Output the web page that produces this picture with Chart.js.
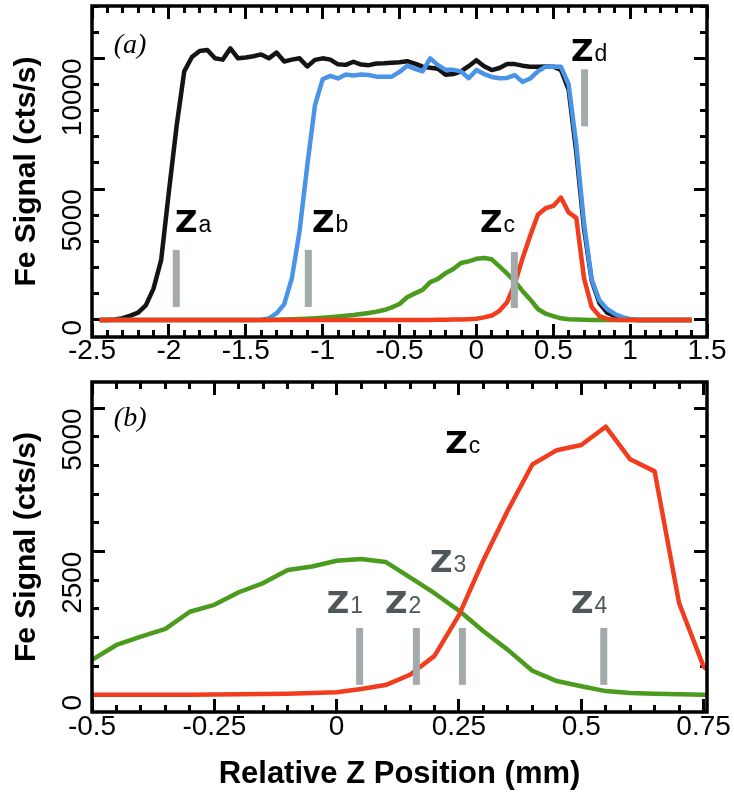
<!DOCTYPE html>
<html lang="en">
<head>
    <meta charset="UTF-8">
    <title>Fe Signal vs Relative Z Position</title>
    <script src="https://cdn.jsdelivr.net/npm/chart.js"></script>
    <style>
        body { margin: 0; background: #fff; }
        canvas { display: block; }
    </style>
</head>
<body>
    <canvas id="panelA" width="734" height="375"></canvas>
    <canvas id="panelB" width="734" height="426"></canvas>

    <script>
        // Sample positions (mm), shared by all four traces
        const zPos = [-2.45, -2.4, -2.35, -2.3, -2.25, -2.2, -2.15, -2.1, -2.05, -2,
            -1.95, -1.9, -1.85, -1.8, -1.75, -1.7, -1.65, -1.6, -1.55, -1.5,
            -1.45, -1.4, -1.35, -1.3, -1.25, -1.2, -1.15, -1.1, -1.05, -1,
            -0.95, -0.9, -0.85, -0.8, -0.75, -0.7, -0.65, -0.6, -0.55, -0.5,
            -0.45, -0.4, -0.35, -0.3, -0.25, -0.2, -0.15, -0.1, -0.05, 0,
            0.05, 0.1, 0.15, 0.2, 0.25, 0.3, 0.35, 0.4, 0.45, 0.5,
            0.55, 0.6, 0.65, 0.7, 0.75, 0.8, 0.85, 0.9, 0.95, 1,
            1.05, 1.1, 1.15, 1.2, 1.25, 1.3, 1.35, 1.4];

        // Fe signal (cts/s)
        const blackSignal = [0, 0, 20, 70, 170, 280, 560, 1200, 2300, 4900,
            7400, 9500, 10050, 10280, 10320, 10000, 9950, 10380, 10000, 10030,
            10080, 10150, 10000, 10220, 9880, 9950, 10000, 9690, 9940, 10000,
            9950, 9770, 9750, 9870, 9760, 9740, 9800, 9810, 9830, 9850,
            9890, 9800, 9680, 9640, 9600, 9370, 9400, 9500, 9700, 9930,
            9700, 9550, 9630, 9780, 9780, 9720, 9680, 9680, 9690, 9680,
            9560, 8800, 6400, 3500, 1500, 650, 280, 150, 70, 15,
            0, 0, 0, 0, 0, 0, 0, 0];
        const blueSignal = [0, 0, 0, 0, 0, 0, 0, 0, 0, 0,
            0, 0, 0, 0, 0, 0, 0, 0, 0, 0,
            0, 10, 60, 250, 600, 1600, 3400, 5900, 8200, 9200,
            9330, 9230, 9380, 9340, 9380, 9360, 9300, 9295, 9300, 9480,
            9720, 9600, 9500, 10000, 9740, 9560, 9560, 9500, 9240, 9550,
            9400, 9290, 9240, 9250, 9360, 9100, 9230, 9500, 9680, 9690,
            9680, 9000, 6700, 3700, 1550, 750, 420, 230, 110, 30,
            0, 0, 0, 0, 0, 0, 0, 0];
        const redSignal = [0, 0, 0, 0, 0, 0, 0, 0, 0, 0,
            0, 0, 0, 0, 0, 0, 0, 0, 0, 0,
            0, 0, 0, 0, 0, 0, 0, 0, 0, 0,
            0, 0, 0, 0, 0, 0, 0, 0, 0, 0,
            0, 0, 0, 0, 5, 10, 15, 20, 30, 45,
            100, 170, 350, 680, 1390, 2350, 3220, 4020, 4270, 4360,
            4680, 4110, 3900, 1600, 494, 150, 40, 10, 0, 0,
            0, 0, 0, 0, 0, 0, 0, 0];
        const greenSignal = [0, 0, 0, 0, 0, 0, 0, 0, 0, 0,
            0, 0, 0, 0, 0, 0, 0, 0, 0, 0,
            0, 0, 0, 10, 18, 28, 38, 50, 65, 85,
            105, 130, 160, 190, 230, 270, 320, 380, 480, 610,
            870, 1017, 1150, 1450, 1570, 1790, 1950, 2180, 2240, 2340,
            2370, 2320, 2050, 1773, 1470, 1110, 785, 420, 240, 150,
            65, 30, 18, 8, 0, 0, 0, 0, 0, 0,
            0, 0, 0, 0, 0, 0, 0, 0];

        // Tick labels
        const xTicksA = [-2.5, -2, -1.5, -1, -0.5, 0, 0.5, 1, 1.5];
        const yTicksA = [0, 5000, 10000];
        const xTicksB = [-0.5, -0.25, 0, 0.25, 0.5, 0.75];
        const yTicksB = [0, 2500, 5000];

        // Marker positions (mm)
        const markersA = [-1.952, -1.093, 0.247, 0.704];
        const markerNamesA = ['a', 'b', 'c', 'd'];
        const markersB = [0.047, 0.163, 0.257, 0.546];
        const markerNamesB = ['1', '2', '3', '4'];

        const FONT = '"Liberation Sans", Arial, sans-serif';
        const BAR_GRAY = '#a3aaab';
        const LABEL_GRAY = '#50575a';

        function drawZ(ctx, px, py, sub, color) {
            ctx.fillStyle = color;
            ctx.textAlign = 'left';
            ctx.textBaseline = 'alphabetic';
            ctx.font = 'bold 31px "DejaVu Sans"';
            ctx.fillText('Z', px, py);
            const w = ctx.measureText('Z').width;
            ctx.font = '23px ' + FONT;
            ctx.fillText(sub, px + w + 1, py);
        }

        // minor tick values: 5 steps per major step
        function minorValues(min, max, majors) {
            const step = (majors[1] - majors[0]) / 5;
            const out = [];
            const k0 = Math.ceil(min / step - 1e-6);
            const k1 = Math.floor(max / step + 1e-6);
            for (let k = k0; k <= k1; k++) out.push(Math.round(k * step * 1e6) / 1e6);
            return out;
        }

        // an axis that only draws inward tick marks, no labels, zero size
        function tickAxis(axis, position, min, max, values, len) {
            return {
                axis: axis,
                position: position,
                type: 'linear',
                bounds: 'data',
                min: min,
                max: max,
                weight: 0,
                afterBuildTicks: s => { s.ticks = values.map(v => ({ value: v })); },
                afterFit: s => {
                    if (axis === 'x') s.height = 0; else s.width = 0;
                    s.paddingLeft = 0; s.paddingRight = 0; s.paddingTop = 0; s.paddingBottom = 0;
                },
                grid: {
                    display: true,
                    drawOnChartArea: false,
                    drawTicks: true,
                    tickLength: -len,
                    tickWidth: 3,
                    tickColor: '#000'
                },
                border: { display: false },
                ticks: { display: false }
            };
        }

        // text annotations and the frame
        function framePlugin(cfg) {
            return {
                id: 'panelFrame',
                afterDatasetsDraw(chart) {
                    const { ctx, chartArea: a, scales: { x, y } } = chart;
                    ctx.save();
                    cfg.labels.forEach(l => {
                        drawZ(ctx, x.getPixelForValue(l.x), y.getPixelForValue(l.y), l.sub, l.color);
                    });
                    ctx.fillStyle = '#000';
                    ctx.font = 'italic 28px "Liberation Serif", serif';
                    ctx.textAlign = 'center';
                    ctx.textBaseline = 'middle';
                    ctx.fillText(cfg.tag.text, x.getPixelForValue(cfg.tag.x), y.getPixelForValue(cfg.tag.y));
                    ctx.strokeStyle = '#000';
                    ctx.lineWidth = 3.5;
                    ctx.strokeRect(a.left, a.top, a.right - a.left, a.bottom - a.top);
                    ctx.restore();
                }
            };
        }

        function makePanel(id, cfg) {
            const datasets = [];
            cfg.markers.forEach((m, i) => {
                datasets.push({
                    data: [{ x: m, y: cfg.barRanges[i][0] }, { x: m, y: cfg.barRanges[i][1] }],
                    xAxisID: 'x',
                    yAxisID: 'y',
                    borderColor: BAR_GRAY,
                    borderWidth: 7,
                    borderCapStyle: 'butt',
                    pointRadius: 0
                });
            });
            cfg.series.forEach(s => {
                datasets.push({
                    data: zPos.map((z, i) => ({ x: z, y: s.values[i] })),
                    xAxisID: 'x',
                    yAxisID: 'y',
                    borderColor: s.color,
                    borderWidth: 4.5,
                    borderJoinStyle: 'round',
                    pointRadius: 0,
                    tension: 0
                });
            });

            const xMinor = minorValues(cfg.xMin, cfg.xMax, cfg.xTicks);
            const yMinor = minorValues(cfg.yMin, cfg.yMax, cfg.yTicks);

            return new Chart(document.getElementById(id), {
                type: 'line',
                data: { datasets: datasets },
                options: {
                    responsive: false,
                    animation: false,
                    devicePixelRatio: 1,
                    layout: { padding: { left: 0, right: 27, top: cfg.top, bottom: 0 } },
                    plugins: {
                        legend: { display: false },
                        tooltip: { enabled: false }
                    },
                    scales: {
                        x: {
                            type: 'linear',
                            position: 'bottom',
                            weight: 1,
                            bounds: 'data',
                            min: cfg.xMin,
                            max: cfg.xMax,
                            afterBuildTicks: s => { s.ticks = cfg.xTicks.map(v => ({ value: v })); },
                            afterFit: s => { s.height = cfg.xHeight; s.paddingLeft = 0; s.paddingRight = 0; },
                            grid: { display: false, drawTicks: false },
                            border: { display: false },
                            ticks: {
                                autoSkip: false,
                                minRotation: 0,
                                maxRotation: 0,
                                padding: cfg.xPad,
                                color: '#000',
                                font: { family: FONT, size: 28, lineHeight: 1 },
                                callback: v => String(v)
                            },
                            title: {
                                display: !!cfg.xTitle,
                                text: cfg.xTitle || '',
                                color: '#000',
                                font: { family: FONT, size: 31, weight: 'bold', lineHeight: 1 },
                                padding: { top: 0, bottom: 11 }
                            }
                        },
                        y: {
                            type: 'linear',
                            position: 'left',
                            weight: 1,
                            bounds: 'data',
                            min: cfg.yMin,
                            max: cfg.yMax,
                            afterBuildTicks: s => { s.ticks = cfg.yTicks.map(v => ({ value: v })); },
                            afterFit: s => { s.width = 92; s.paddingTop = 0; s.paddingBottom = 0; },
                            grid: { display: false, drawTicks: false },
                            border: { display: false },
                            ticks: {
                                autoSkip: false,
                                minRotation: 90,
                                maxRotation: 90,
                                padding: 19,
                                color: '#000',
                                font: { family: FONT, size: 28, lineHeight: 1 },
                                callback: v => String(v)
                            },
                            title: {
                                display: true,
                                text: 'Fe Signal (cts/s)',
                                color: '#000',
                                font: { family: FONT, size: 30, weight: 'bold', lineHeight: 1 },
                                padding: { top: 12, bottom: 0 }
                            }
                        },
                        xBottomMinor: tickAxis('x', 'bottom', cfg.xMin, cfg.xMax, xMinor, 7),
                        xBottomMajor: tickAxis('x', 'bottom', cfg.xMin, cfg.xMax, cfg.xTicks, 13),
                        xTopMinor: tickAxis('x', 'top', cfg.xMin, cfg.xMax, xMinor, 7),
                        xTopMajor: tickAxis('x', 'top', cfg.xMin, cfg.xMax, cfg.xTicks, 13),
                        yLeftMinor: tickAxis('y', 'left', cfg.yMin, cfg.yMax, yMinor, 7),
                        yLeftMajor: tickAxis('y', 'left', cfg.yMin, cfg.yMax, cfg.yTicks, 13),
                        yRightMinor: tickAxis('y', 'right', cfg.yMin, cfg.yMax, yMinor, 7),
                        yRightMajor: tickAxis('y', 'right', cfg.yMin, cfg.yMax, cfg.yTicks, 13)
                    }
                },
                plugins: [framePlugin(cfg)]
            });
        }

        // Panel (a): full profile
        makePanel('panelA', {
            top: 6,
            xHeight: 38,
            xPad: 0,
            xMin: -2.5, xMax: 1.5,
            yMin: -650, yMax: 12000,
            xTicks: xTicksA,
            yTicks: yTicksA,
            series: [
                { values: redSignal, color: '#f23c1e' },
                { values: greenSignal, color: '#4b9b1f' },
                { values: blueSignal, color: '#4a94e8' },
                { values: blackSignal, color: '#141414' }
            ],
            markers: markersA,
            barRanges: [[500, 2680], [500, 2680], [460, 2600], [7400, 9580]],
            labels: [
                { x: -1.96, y: 3370, sub: markerNamesA[0], color: '#000' },
                { x: -1.069, y: 3370, sub: markerNamesA[1], color: '#000' },
                { x: 0.024, y: 3370, sub: markerNamesA[2], color: '#000' },
                { x: 0.615, y: 9885, sub: markerNamesA[3], color: '#000' }
            ],
            tag: { text: '(a)', x: -2.253, y: 10500 }
        });

        // Panel (b): zoom on the red and green traces
        makePanel('panelB', {
            top: 7,
            xHeight: 89,
            xPad: 1,
            xMin: -0.5, xMax: 0.757,
            yMin: -300, yMax: 5460,
            xTicks: xTicksB,
            yTicks: yTicksB,
            xTitle: 'Relative Z Position (mm)',
            series: [
                { values: redSignal, color: '#f23c1e' },
                { values: greenSignal, color: '#4b9b1f' }
            ],
            markers: markersB,
            barRanges: [[174, 1168], [174, 1168], [174, 1168], [174, 1168]],
            labels: [
                { x: -0.02, y: 1430, sub: markerNamesB[0], color: LABEL_GRAY },
                { x: 0.099, y: 1430, sub: markerNamesB[1], color: LABEL_GRAY },
                { x: 0.191, y: 2145, sub: markerNamesB[2], color: LABEL_GRAY },
                { x: 0.479, y: 1430, sub: markerNamesB[3], color: LABEL_GRAY },
                { x: 0.222, y: 4220, sub: 'c', color: '#000' }
            ],
            tag: { text: '(b)', x: -0.422, y: 4813 }
        });
    </script>
</body>
</html>
